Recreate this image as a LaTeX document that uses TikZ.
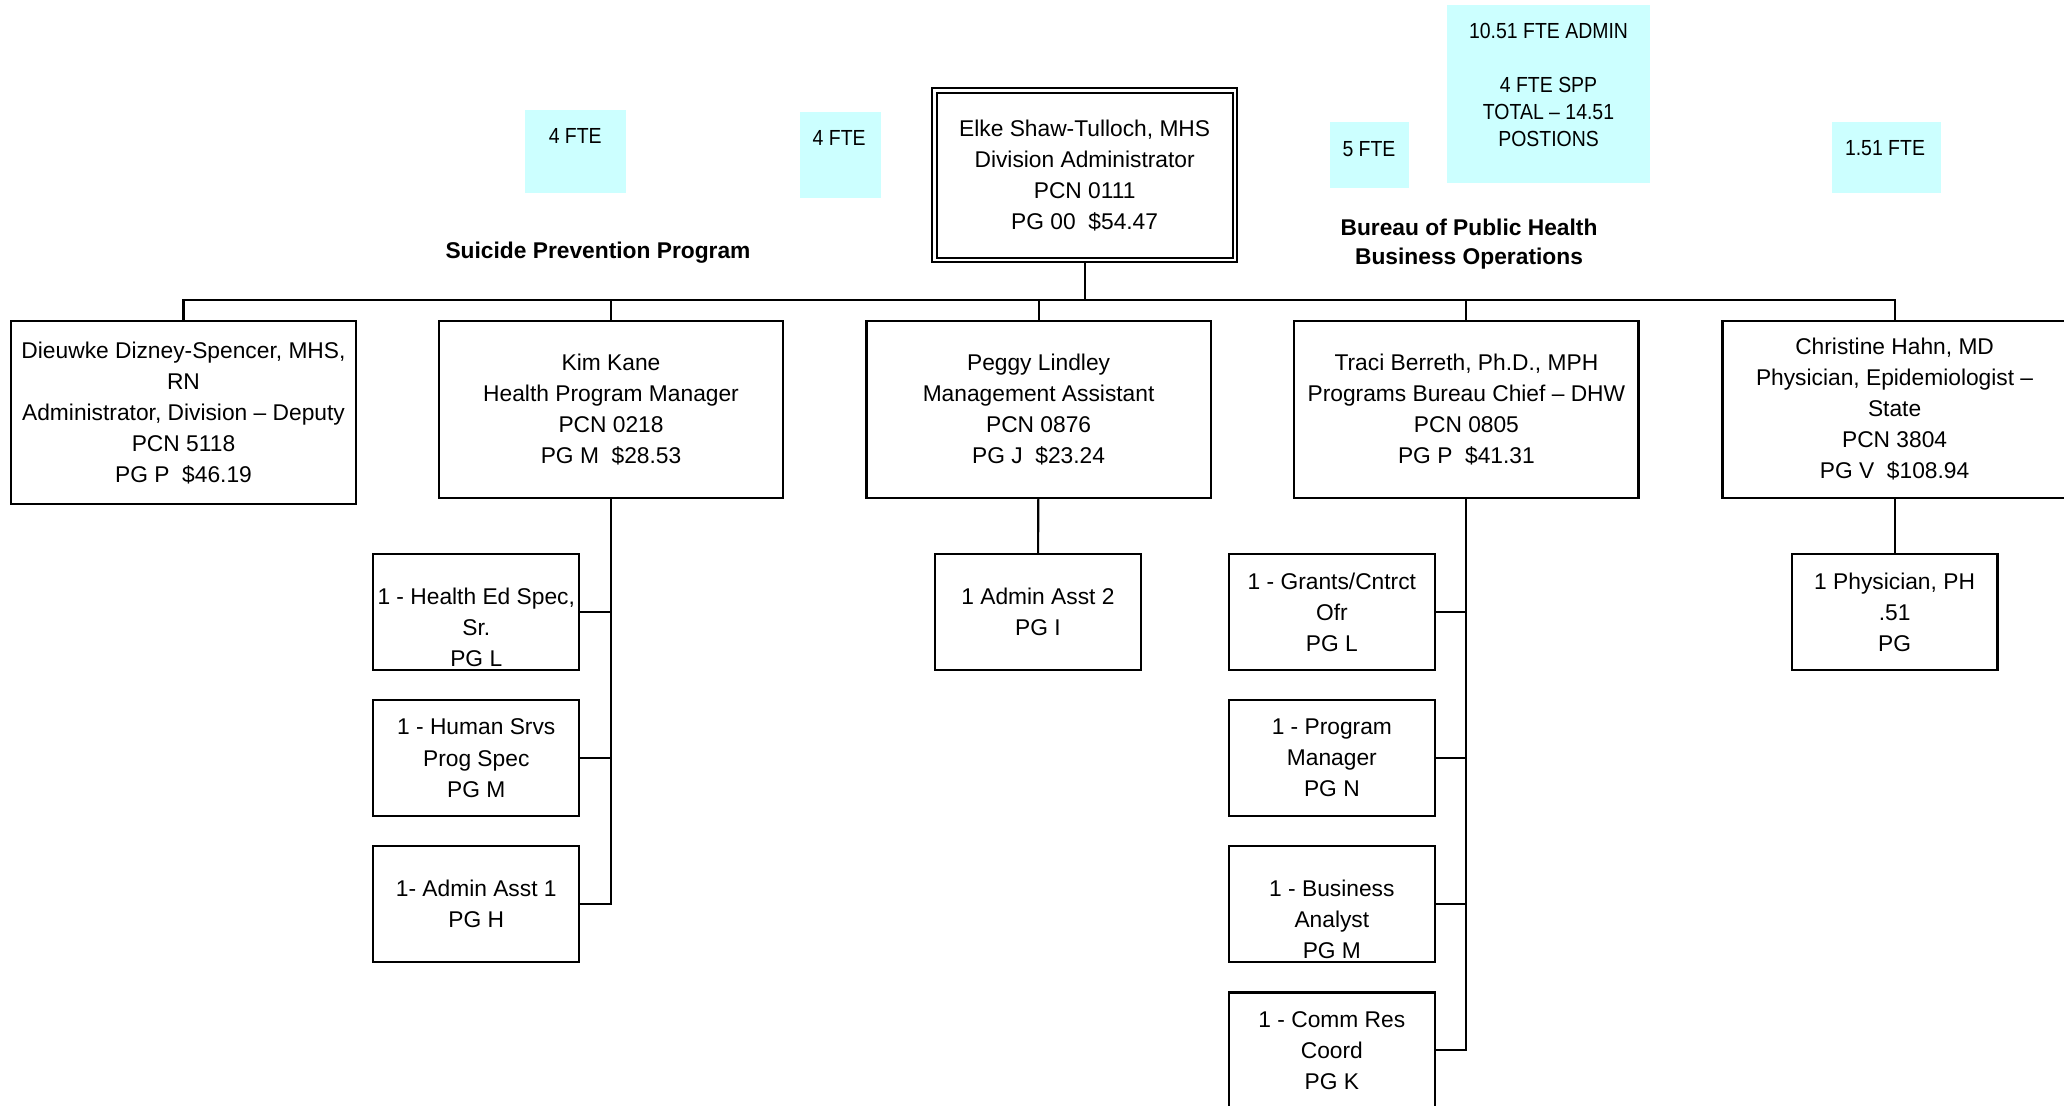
\documentclass[tikz,border=0pt]{standalone}
\usepackage{fontspec}
\setmainfont{Liberation Sans}
\newfontfamily\ftefont[FakeStretch=0.89, Ligatures=TeX]{Liberation Sans}
\definecolor{ftecyan}{RGB}{204,255,255}

\begin{document}
\begin{tikzpicture}[x=1pt, y=-1pt, line width=1.6pt,
  post/.style={draw, align=center, inner sep=0pt, font=\fontsize{17.3pt}{23.6pt}\selectfont},
  head/.style={post, minimum width=261.5pt, minimum height=134pt},
  staff/.style={post, minimum width=156.3pt, minimum height=88pt},
  ftebox/.style={fill=ftecyan, inner sep=0pt},
  ftetext/.style={align=center, inner sep=0pt, anchor=north, font=\ftefont\fontsize{16.6pt}{20.5pt}\selectfont},
  unit/.style={align=center, inner sep=0pt, anchor=north, font=\bfseries\fontsize{17.3pt}{22pt}\selectfont}]
\useasboundingbox (0,0) rectangle (1568,840);
\clip (0,0) rectangle (1568,840);

\node[ftebox, minimum width=76.7pt, minimum height=62.8pt] (fteSPP) at (437.2,115) {};
\node[ftetext] (fteSPPtext) at (437,96.7) {4 FTE};
\node[ftebox, minimum width=61.5pt, minimum height=65.1pt] (fteMgr) at (638.5,117.6) {};
\node[ftetext] (fteMgrtext) at (637.5,98.3) {4 FTE};
\node[ftebox, minimum width=60pt, minimum height=50pt] (fteOps) at (1040.5,117.6) {};
\node[ftetext] (fteOpstext) at (1040,106.4) {5 FTE};
\node[ftebox, minimum width=154.2pt, minimum height=135pt] (fteTotal) at (1176.4,71.3) {};
\node[ftetext] (fteTotaltext) at (1176.4,17.2) {10.51 FTE ADMIN\\[20.5pt]4 FTE SPP\\TOTAL – 14.51\\POSTIONS};
\node[ftebox, minimum width=83pt, minimum height=54pt] (fteEpi) at (1433,119.4) {};
\node[ftetext] (fteEpitext) at (1432,105.9) {1.51 FTE};

\node[unit] (spp) at (454.3,183.1) {Suicide Prevention Program};
\node[unit] (bph) at (1116,165.9) {Bureau of Public Health\\Business Operations};

\node[post, double, double distance=2pt, line width=1.5pt, minimum width=228.6pt, minimum height=128.7pt] (chief) at (824,133.3)
  {Elke Shaw-Tulloch, MHS\\Division Administrator\\PCN 0111\\PG 00 \ \$54.47};

\node[head, minimum height=139pt] (dizney) at (139.4,313.5)
  {Dieuwke Dizney-Spencer, MHS,\\RN\\Administrator, Division -- Deputy\\PCN 5118\\PG P \ \$46.19};
\node[head] (kane) at (464.2,311) {Kim Kane\\Health Program Manager\\PCN 0218\\PG M \ \$28.53};
\node[head] (lindley) at (789,311) {Peggy Lindley\\Management Assistant\\PCN 0876\\PG J \ \$23.24};
\node[head] (berreth) at (1114,311) {Traci Berreth, Ph.D., MPH\\Programs Bureau Chief -- DHW\\PCN 0805\\PG P \ \$41.31};
\node[head] (hahn) at (1439.3,311) {Christine Hahn, MD\\Physician, Epidemiologist --\\State\\PCN 3804\\PG V \ \$108.94};

\node[staff] (edspec) at (361.8,465) {\vphantom{1}\\1 - Health Ed Spec,\\Sr.\\PG L};
\node[staff] (humsrvs) at (361.8,576) {1 - Human Srvs\\Prog Spec\\PG M};
\node[staff] (asst1) at (361.8,687) {1- Admin Asst 1\\PG H};
\node[staff] (asst2) at (788.5,465) {1 Admin Asst 2\\PG I};
\node[staff] (grants) at (1011.8,465) {1 - Grants/Cntrct\\Ofr\\PG L};
\node[staff] (progmgr) at (1011.8,576) {1 - Program\\Manager\\PG N};
\node[staff] (analyst) at (1011.8,687) {\vphantom{1}\\1 - Business\\Analyst\\PG M};
\node[staff] (commres) at (1011.8,798) {1 - Comm Res\\Coord\\PG K};
\node[staff] (physician) at (1439.3,465) {1 Physician, PH\\.51\\PG};

\coordinate (bus) at (824,228);
\draw (chief.south) -- (bus);
\foreach \n in {dizney,kane,lindley,berreth,hahn}
  \draw (bus) -| (\n.north);
\foreach \n in {edspec,humsrvs,asst1}
  \draw (kane.south) |- (\n.east);
\draw (lindley) -- (asst2);
\foreach \n in {grants,progmgr,analyst,commres}
  \draw (berreth.south) |- (\n.east);
\draw (hahn) -- (physician);
\end{tikzpicture}
\end{document}
